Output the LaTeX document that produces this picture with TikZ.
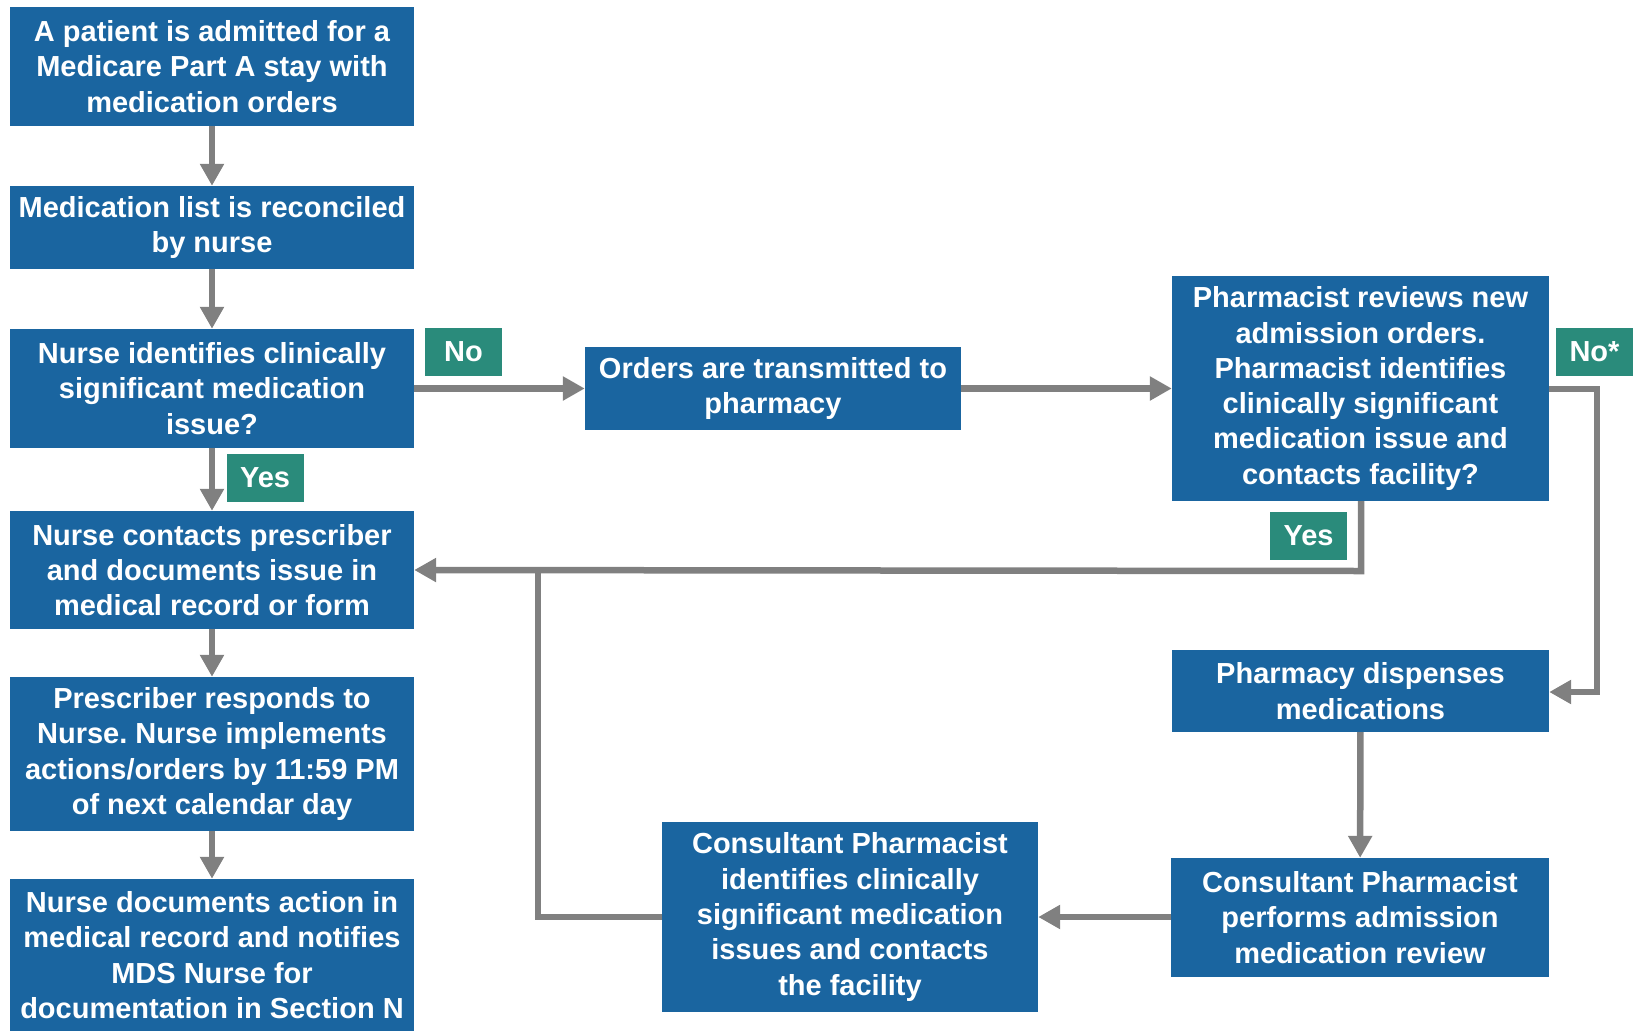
\documentclass[tikz,border=0pt]{standalone}
\usepackage{fontspec}
\setmainfont{Liberation Sans}
\usetikzlibrary{arrows.meta}
\definecolor{boxblue}{HTML}{1A65A0}
\definecolor{lblgreen}{HTML}{2A8B7B}
\definecolor{arrgray}{HTML}{808080}
\frenchspacing
\begin{document}
\begin{tikzpicture}[x=1pt,y=-1pt,
  stepbox/.style={fill=boxblue,text=white,align=center,inner sep=0pt,
    font=\fontsize{29}{35.3}\selectfont\bfseries\frenchspacing},
  lbl/.style={fill=lblgreen,text=white,inner sep=0pt,minimum width=77pt,minimum height=48pt,
    font=\fontsize{29}{33}\selectfont\bfseries},
  conn/.style={draw=arrgray,line width=6.5pt},
  arr/.style={conn,-{Triangle[length=22pt,width=23pt]}}]
\useasboundingbox (0,0) rectangle (1634,1031);
\node[stepbox,minimum width=404pt,minimum height=119pt] (b1) at (212,66.5) {A patient is admitted for a\\Medicare Part A stay with\\medication orders};
\node[stepbox,minimum width=404pt,minimum height=83pt] (b2) at (212,227.5) {Medication list is reconciled\\by nurse};
\node[stepbox,minimum width=404pt,minimum height=119pt] (b3) at (212,388.5) {Nurse identifies clinically\\significant medication\\issue?};
\node[stepbox,minimum width=404pt,minimum height=118pt] (b4) at (212,570) {Nurse contacts prescriber\\and documents issue in\\medical record or form};
\node[stepbox,minimum width=404pt,minimum height=154pt] (b5) at (212,754) {Prescriber responds to\\Nurse. Nurse implements\\actions/orders by 11:59 PM\\of next calendar day};
\node[stepbox,minimum width=404pt,minimum height=152pt] (b6) at (212,955) {Nurse documents action in\\medical record and notifies\\MDS Nurse for\\documentation in Section N};
\node[stepbox,minimum width=376pt,minimum height=83pt] (ord) at (773,388.5) {Orders are transmitted to\\pharmacy};
\node[stepbox,minimum width=377pt,minimum height=225pt] (ph) at (1360.5,388.5) {Pharmacist reviews new\\admission orders.\\Pharmacist identifies\\clinically significant\\medication issue and\\contacts facility?};
\node[stepbox,minimum width=377pt,minimum height=82pt] (disp) at (1360.5,691) {Pharmacy dispenses\\medications};
\node[stepbox,minimum width=378pt,minimum height=119pt] (cperf) at (1360,917.5) {Consultant Pharmacist\\performs admission\\medication review};
\node[stepbox,minimum width=376pt,minimum height=190pt] (cid) at (850,917) {Consultant Pharmacist\\identifies clinically\\significant medication\\issues and contacts\\the facility};
\node[lbl] (no1) at (463.5,352) {No};
\node[lbl] (yes1) at (265,477.5) {Yes};
\node[lbl] (yes2) at (1308.5,536) {Yes};
\node[lbl] (no2) at (1594.5,352) {No*};
\coordinate (phy) at (1361,571);
\coordinate (nr) at (1597,389);
\coordinate (nb) at (1597,692);
\coordinate (cj) at (538,917);
\coordinate (cjt) at (538,571);
\draw[arr] (b1) -- (b2);
\draw[arr] (b2) -- (b3);
\draw[arr] (b3) -- (b4);
\draw[arr] (b4) -- (b5);
\draw[arr] (b5) -- (b6);
\draw[arr] (b3.east) -- (ord.west);
\draw[arr] (ord.east) -- (ph.west);
\draw[arr] (ph.south -| phy) -- (phy) -- (b4.east);
\draw[arr] (ph.east |- nr) -- (nr) -- (nb) -- (disp.east |- nb);
\draw[arr] (disp) -- (cperf);
\draw[arr] (cperf.west |- cid.east) -- (cid.east);
\draw[conn] (cid.west) -- (cj) -- (cjt);
\end{tikzpicture}
\end{document}
